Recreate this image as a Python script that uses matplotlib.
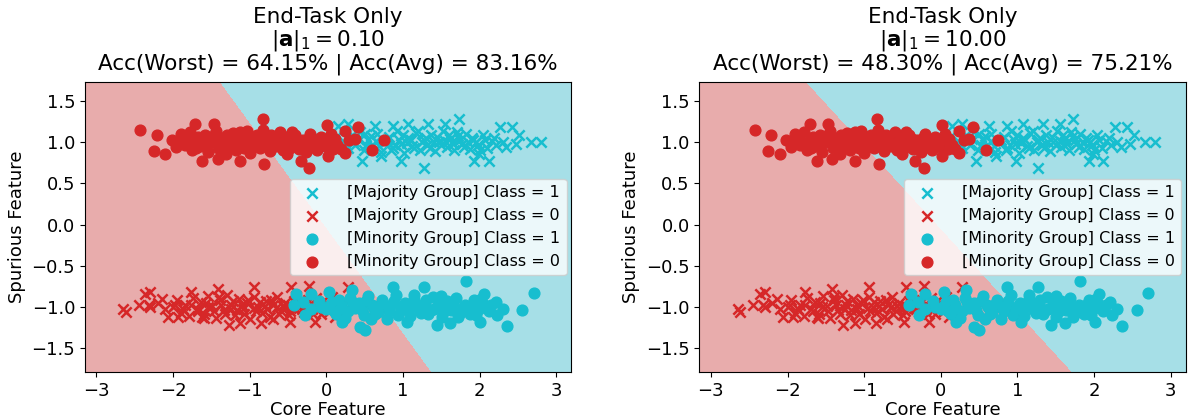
"""
Decision boundary of the end-task-only classifier on the 2D spurious-feature toy
data, for two values of |a|_1. Same data in both panels; only the linear
classifier (and so the shaded regions) changes.
"""

import numpy as np
import matplotlib
matplotlib.use("Agg")
import matplotlib.pyplot as plt

plt.rcParams.update({"font.size": 13})

# --- data (core feature, spurious feature) -----------------------------------
# majority group, class 1 (top right, crosses)
MAJ1_X = [2.80, 2.67, 2.52, 2.43, 2.27, 2.47, 2.12, 1.93, 1.73, 1.55, 1.33, 1.27,
          0.98, 0.46, 0.28, 0.15, 1.07, 0.87, 0.63, 0.72, 1.99,
          0.22, 0.28, 0.33, 0.38, 0.44, 0.49, 0.55, 0.60, 0.66, 0.71, 0.76, 0.82,
          0.87, 0.92, 0.97, 1.02, 1.07, 1.12, 1.17, 1.22, 1.27, 1.32, 1.37, 1.42,
          1.47, 1.52, 1.57, 1.62, 1.67, 1.72, 1.77, 1.82, 1.87, 1.92, 1.98, 2.04,
          2.10, 2.16, 2.22, 0.05, -0.08, -0.18, 0.12, 0.95, 1.25, 1.55, 0.65, 1.85,
          0.35, 1.05,
          0.25, 0.41, 0.52, 0.58, 0.69, 0.79, 0.90, 1.00, 1.10, 1.15, 1.30, 1.35,
          1.45, 1.50, 1.60, 1.65, 1.75, 1.80, 1.90, 1.95, 2.07, 2.19, 2.30, 2.35,
          0.85, 1.20, 1.70, 0.50, 2.00, 1.40]
MAJ1_Y = [1.00, 1.00, 1.08, 1.18, 1.18, 0.98, 0.77, 0.77, 1.28, 1.22, 1.22, 0.69,
          0.77, 0.77, 1.22, 1.20, 1.22, 1.20, 1.19, 0.83, 0.86,
          1.01, 0.93, 1.08, 0.97, 1.12, 0.90, 1.03, 0.95, 1.10, 0.88, 1.00, 1.06,
          0.93, 1.14, 0.98, 0.87, 1.05, 0.95, 1.11, 0.91, 1.02, 0.97, 1.08, 0.89,
          1.00, 1.13, 0.94, 1.04, 0.90, 1.07, 0.98, 1.10, 0.92, 1.02, 0.96, 1.08,
          0.93, 1.01, 0.97, 0.98, 1.04, 0.96, 1.06, 1.02, 1.00, 1.01, 1.01, 1.00,
          1.01, 0.99,
          0.98, 1.04, 0.97, 1.07, 0.95, 1.03, 0.97, 1.08, 1.02, 0.93, 1.05, 0.93,
          1.06, 0.96, 1.08, 0.98, 1.02, 0.94, 1.05, 1.00, 1.02, 1.05, 1.00, 0.94,
          0.90, 1.13, 1.12, 1.10, 0.91, 1.00]

# majority group, class 0 (bottom left, crosses)
MAJ0_X = [-2.62, -2.65, -2.36, -2.30, -2.32, -2.06, -1.93, -2.14, -1.77, -1.62,
          -1.42, -1.27, -1.12, -0.94, -0.85, -0.46, -0.48, -0.22, -0.15, 0.11,
          0.28, 0.07,
          -2.00, -1.95, -1.90, -1.84, -1.79, -1.74, -1.69, -1.64, -1.59, -1.54,
          -1.49, -1.44, -1.39, -1.34, -1.29, -1.24, -1.19, -1.14, -1.09, -1.04,
          -0.99, -0.94, -0.89, -0.84, -0.79, -0.74, -0.69, -0.64, -0.59, -0.54,
          -0.49, -0.44, -0.39, -0.34, -0.29, -0.24, -0.19, -0.13, -0.07, 0.00,
          0.06, 0.14, -1.55, -1.25, -0.95, -0.65, -0.35, -1.10, -0.80, -0.50,
          -2.20, -2.10,
          -1.97, -1.87, -1.77, -1.67, -1.57, -1.47, -1.37, -1.32, -1.22, -1.17,
          -1.07, -1.02, -0.92, -0.87, -0.77, -0.72, -0.62, -0.57, -0.47, -0.42,
          -0.32, -0.27, -0.17, -0.10, -0.03, 0.03, -2.30, -2.45, -1.60, -0.70,
          0.18, -1.40]
MAJ0_Y = [-1.06, -1.02, -0.84, -0.82, -0.98, -1.12, -1.12, -0.90, -0.82, -1.12,
          -0.78, -1.22, -1.20, -0.76, -1.20, -0.76, -1.18, -0.74, -1.18, -1.12,
          -0.76, -0.88,
          -1.00, -0.92, -1.07, -0.97, -1.11, -0.89, -1.02, -0.94, -1.08, -0.87,
          -0.99, -1.13, -0.92, -1.04, -0.86, -0.97, -1.10, -0.90, -1.03, -0.95,
          -1.14, -0.88, -1.00, -1.07, -0.93, -1.12, -0.98, -0.88, -1.05, -0.95,
          -1.10, -1.00, -0.87, -0.96, -1.06, -0.92, -1.02, -0.89, -1.08, -0.97,
          -1.03, -0.95, -1.00, -1.02, -1.01, -1.00, -1.01, -0.97, -0.99, -0.98,
          -0.95, -1.02,
          -0.98, -1.02, -0.97, -1.05, -0.95, -1.05, -0.98, -1.09, -0.93, -1.04,
          -1.09, -0.91, -1.05, -0.94, -1.03, -0.92, -1.08, -0.99, -1.05, -0.93,
          -1.02, -0.96, -1.09, -1.00, -0.92, -1.06, -1.00, -0.97, -1.13, -1.14,
          -1.05, -0.88]

# minority group, class 1 (bottom right, circles)
MIN1_X = [2.71, 2.56, 2.36, 2.23, 1.82, 2.06, 2.01, 1.62, 1.44, 1.27, 0.87, 1.05,
          0.50, 0.44, 0.20, 0.33, 0.04, -0.20, -0.39, -0.42, -0.28, -0.07, 2.21,
          0.00, 0.07, 0.13, 0.19, 0.25, 0.31, 0.37, 0.43, 0.49, 0.55, 0.61, 0.67,
          0.73, 0.79, 0.85, 0.91, 0.97, 1.03, 1.09, 1.15, 1.21, 1.27, 1.33, 1.39,
          1.45, 1.51, 1.57, 1.63, 1.69, 1.75, 1.81, 1.87, 1.93, 1.99, 2.05, 2.12,
          -0.10, -0.30, 0.40, 0.80, 1.20, 1.60, 0.60, 1.00, 1.40, 0.20,
          0.04, 0.10, 0.16, 0.28, 0.34, 0.46, 0.52, 0.64, 0.70, 0.82, 0.88, 0.94,
          1.06, 1.12, 1.24, 1.30, 1.36, 1.48, 1.54, 1.66, 1.72, 1.78, 1.90, 1.96,
          2.02, 2.15, 2.30, -0.20, 0.58, 1.15, 1.50]
MIN1_Y = [-0.83, -1.04, -1.23, -1.10, -0.69, -0.84, -1.18, -1.20, -1.22, -0.76,
          -0.76, -1.18, -1.28, -1.24, -1.18, -0.80, -0.82, -0.84, -0.84, -0.98,
          -1.10, -1.00, -0.94,
          -1.03, -0.94, -1.09, -0.97, -1.13, -0.89, -1.01, -0.95, -1.10, -0.87,
          -1.00, -1.06, -0.92, -1.14, -0.98, -0.86, -1.04, -0.95, -1.11, -0.90,
          -1.02, -0.96, -1.08, -0.88, -1.00, -1.12, -0.93, -1.04, -0.89, -1.07,
          -0.97, -1.09, -0.92, -1.02, -0.96, -1.05,
          -0.93, -0.94, -1.00, -1.01, -0.99, -1.00, -0.97, -1.00, -1.02, -1.02,
          -0.99, -1.05, -0.92, -1.05, -0.94, -1.04, -0.93, -1.09, -0.98, -1.05,
          -0.93, -1.10, -1.03, -0.96, -1.07, -0.92, -1.04, -0.96, -1.05, -0.96,
          -1.12, -1.01, -0.98, -1.10, -0.90, -0.98, -1.02, -1.02, -1.15, -0.85,
          -0.87]

# minority group, class 0 (top left, circles)
MIN0_X = [-2.43, -2.21, -2.25, -2.10, -1.71, -1.47, -0.83, -0.81, -0.22, 0.01,
          0.42, 0.75, 0.59, 0.24, 0.02, -0.33, -1.62, -1.42, -1.12, 0.24, 0.11,
          0.37, -1.90, -1.95,
          -2.02, -1.96, -1.88, -1.84, -1.78, -1.75, -1.69, -1.63, -1.58, -1.55,
          -1.50, -1.44, -1.41, -1.36, -1.31, -1.27, -1.22, -1.18, -1.13, -1.09,
          -1.04, -1.00, -0.96, -0.91, -0.87, -0.82, -0.78, -0.74, -0.69, -0.65,
          -0.60, -0.55, -0.51, -0.46, -0.41, -0.36, -0.31, -0.26, -0.21, -0.17,
          -0.12, -0.07, -0.02, 0.06, 0.14, 0.19, 0.30, -1.60, -1.20, -0.90,
          -0.40, -1.45, -1.05, -0.70, -0.28,
          -1.92, -1.85, -1.76, -1.67, -1.57, -1.48, -1.38, -1.30, -1.24, -1.16,
          -1.07, -0.98, -0.93, -0.85, -0.76, -0.72, -0.62, -0.53, -0.48, -0.38,
          -0.33, -0.23, -0.14, -0.05, 0.03, 0.09, -1.70, -1.34, -1.02, -0.57,
          -0.19, -0.80, -1.53, -1.12, -0.45]
MIN0_Y = [1.15, 1.08, 0.89, 0.86, 1.22, 1.22, 1.28, 0.74, 0.69, 1.21, 1.18, 1.03,
          0.91, 0.87, 0.83, 0.77, 0.77, 0.80, 0.77, 1.14, 1.04, 1.04, 1.10, 0.98,
          1.02, 0.94, 1.07, 0.97, 1.12, 0.90, 1.03, 0.95, 1.09, 0.88, 1.00, 1.14,
          0.93, 1.05, 0.86, 0.98, 1.11, 0.91, 1.04, 0.96, 1.13, 0.87, 1.01, 1.08,
          0.93, 1.15, 0.99, 0.89, 1.06, 0.95, 1.12, 1.01, 0.86, 0.97, 1.08, 0.92,
          1.03, 0.88, 1.10, 0.98, 0.90, 1.06, 0.95, 1.10, 0.97, 0.92, 1.02, 1.00,
          1.00, 0.98, 1.00, 1.02, 1.05, 1.02, 0.97,
          1.00, 1.03, 0.99, 1.06, 0.97, 1.07, 0.99, 1.08, 0.95, 1.07, 0.93, 1.06,
          0.95, 1.04, 0.94, 1.09, 0.99, 1.06, 0.93, 1.04, 0.95, 1.05, 1.02, 0.99,
          1.03, 0.92, 0.93, 0.94, 1.00, 0.91, 0.94, 1.08, 1.04, 1.12, 1.12]

# linear classifier per panel: w0*x + w1*y + b > 0 -> class 1
A_NORM = [0.10, 10.00]
WEIGHTS = [(1.0, 0.784), (1.0, 0.986)]
BIASES = [0.024, 0.044]
ACC_WORST = [64.15, 48.30]
ACC_AVG = [83.16, 75.21]

RED = "#d62728"
CYAN = "#17becf"
RED_BG = "#e8acac"
CYAN_BG = "#a6dfe7"

XLIM = (-3.15, 3.2)
YLIM = (-1.79, 1.73)


def main():
    fig, axes = plt.subplots(1, 2, figsize=(11.9, 4.2), dpi=100)
    fig.subplots_adjust(left=0.0714, right=0.9966, top=0.805, bottom=0.114,
                        wspace=0.263)

    xx, yy = np.meshgrid(np.linspace(XLIM[0], XLIM[1], 400),
                         np.linspace(YLIM[0], YLIM[1], 400))

    for ax, a, w, b, worst, avg in zip(axes, A_NORM, WEIGHTS, BIASES,
                                       ACC_WORST, ACC_AVG):
        zz = w[0] * xx + w[1] * yy + b
        ax.contourf(xx, yy, zz, levels=[-100, 0, 100], colors=[RED_BG, CYAN_BG])

        ax.scatter(MAJ1_X, MAJ1_Y, marker="x", s=55, linewidths=1.8, color=CYAN,
                   label="[Majority Group] Class = 1")
        ax.scatter(MAJ0_X, MAJ0_Y, marker="x", s=55, linewidths=1.8, color=RED,
                   label="[Majority Group] Class = 0")
        ax.scatter(MIN1_X, MIN1_Y, marker="o", s=60, color=CYAN,
                   label="[Minority Group] Class = 1")
        ax.scatter(MIN0_X, MIN0_Y, marker="o", s=60, color=RED,
                   label="[Minority Group] Class = 0")

        ax.set_xlim(*XLIM)
        ax.set_ylim(*YLIM)
        ax.set_xticks([-3, -2, -1, 0, 1, 2, 3])
        ax.set_yticks([-1.5, -1.0, -0.5, 0.0, 0.5, 1.0, 1.5])
        ax.tick_params(labelsize=13)
        ax.set_xlabel("Core Feature", fontsize=13, labelpad=1)
        ax.set_ylabel("Spurious Feature", fontsize=13)
        ax.set_title("End-Task Only\n" + r"$|\mathbf{a}|_1 = %.2f$" % a + "\n"
                     + f"Acc(Worst) = {worst:.2f}% | Acc(Avg) = {avg:.2f}%",
                     fontsize=15.5, linespacing=1.05, pad=9)
        ax.legend(loc="center right", fontsize=11.5, handletextpad=1.2,
                  borderaxespad=0.3)

    fig.savefig("out.png", dpi=100)
    plt.close(fig)


if __name__ == "__main__":
    main()
